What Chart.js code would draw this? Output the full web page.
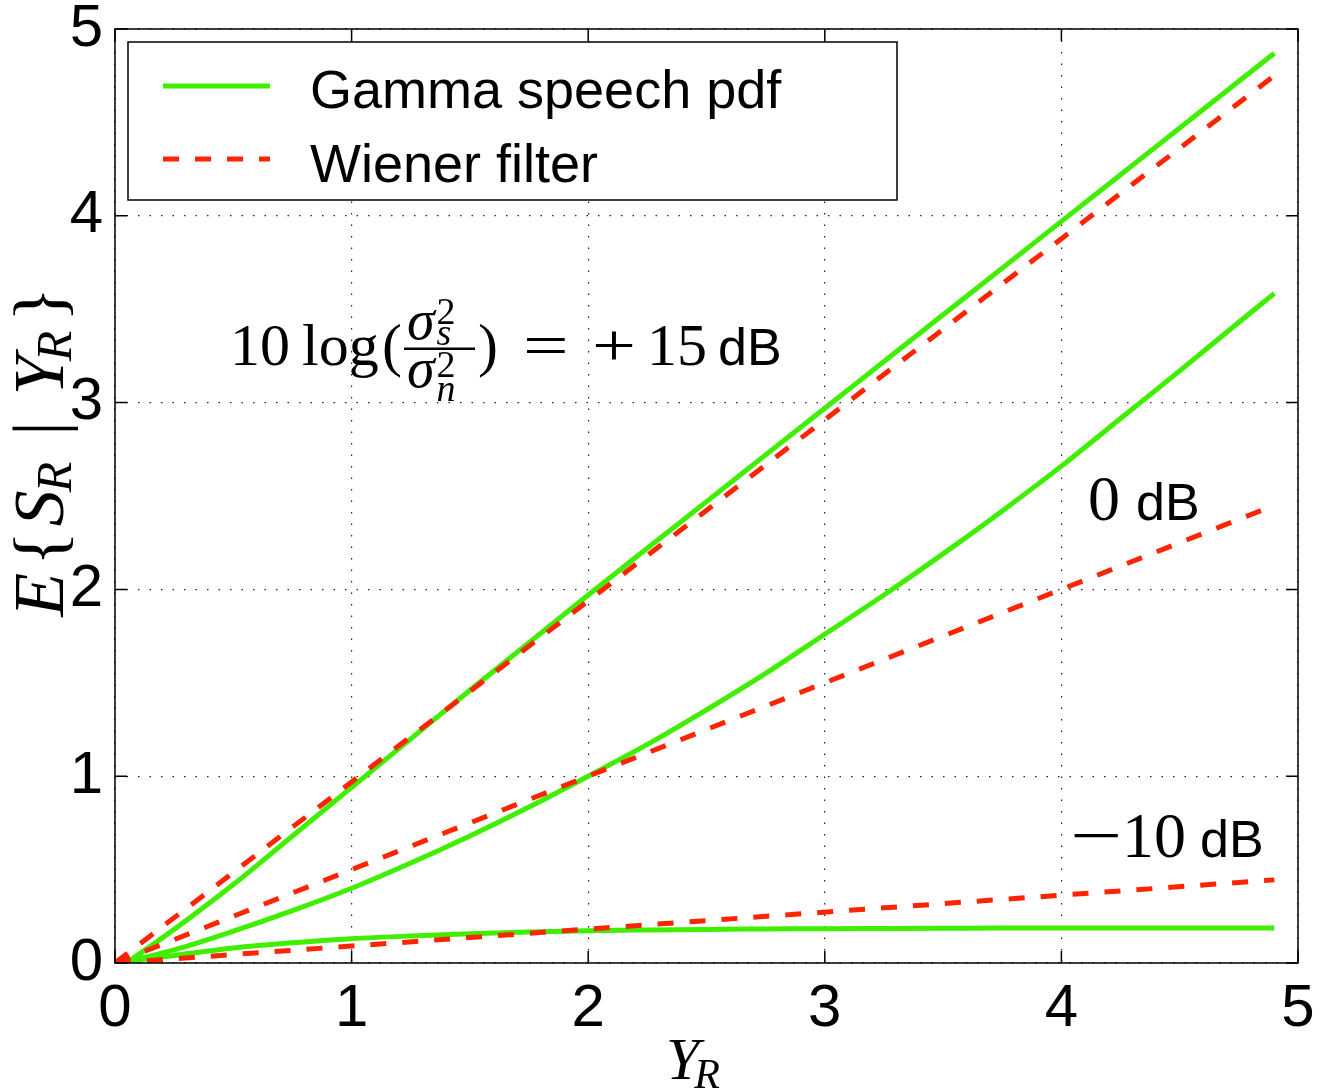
<!DOCTYPE html>
<html>
<head>
<meta charset="utf-8">
<script src="https://cdn.jsdelivr.net/npm/chart.js@4.4.0/dist/chart.umd.min.js"></script>
<style>
	html, body { margin: 0; padding: 0; background: #fff; }
</style>
</head>
<body>
<canvas id="chart" width="1319" height="1089"></canvas>
<script>
"use strict";

// Estimator output E{S_R | Y_R}
const gammaX = [0.06, 0.25, 0.5, 0.75, 1, 1.25, 1.5, 1.75, 2, 2.25, 2.5, 2.75, 3, 3.25, 3.5, 3.75, 4, 4.25, 4.5, 4.75, 4.9]
const gamma15 = [0.01, 0.18, 0.42, 0.68, 0.94, 1.2, 1.46, 1.715, 1.97, 2.22, 2.47, 2.72, 2.97, 3.22, 3.47, 3.72, 3.97, 4.22, 4.47, 4.72, 4.87]
const gamma0 = [0.01, 0.07, 0.17, 0.28, 0.40, 0.535, 0.68, 0.835, 1.0, 1.17, 1.355, 1.55, 1.76, 1.97, 2.19, 2.42, 2.66, 2.915, 3.17, 3.43, 3.585]
const gammaM10 = [0.01, 0.04, 0.08, 0.108, 0.13, 0.145, 0.157, 0.166, 0.173, 0.177, 0.18, 0.182, 0.184, 0.185, 0.186, 0.187, 0.187, 0.187, 0.187, 0.187, 0.187]

const wienerX = [0, 4.9]
const wiener15 = [0, 4.75]
const wiener0 = [0, 2.45]
const wienerM10 = [0, 0.445]

const xTicks = [0, 1, 2, 3, 4, 5]
const yTicks = [0, 1, 2, 3, 4, 5]

const legendLabels = ['Gamma speech pdf', 'Wiener filter']

const GREEN = 'rgb(64,238,0)'
const RED = 'rgb(255,36,0)'

const pts = (xs, ys) => xs.map((x, i) => ({ x: x, y: ys[i] }))

const gammaSet = (ys) => ({
	data: pts(gammaX, ys),
	borderColor: GREEN,
	borderWidth: 5,
	pointRadius: 0,
	cubicInterpolationMode: 'monotone',
	fill: false,
	order: 1
})

const wienerSet = (ys) => ({
	data: pts(wienerX, ys),
	borderColor: RED,
	borderWidth: 5,
	borderDash: [16, 16],
	borderCapStyle: 'butt',
	pointRadius: 0,
	fill: false,
	order: 0
})

const serif = (size, italic) => (italic ? 'italic ' : '') + size + 'px "Liberation Serif"'
const sans = (size) => size + 'px "Liberation Sans"'

function put(ctx, t, font, x, y) {
	ctx.font = font
	ctx.fillText(t, x, y)
	return x + ctx.measureText(t).width
}

// math symbols like = + - are wider in the original font, stretch them
function putWide(ctx, t, font, x, y, sx) {
	ctx.save()
	ctx.translate(x, y)
	ctx.scale(sx, 1)
	put(ctx, t, font, 0, 0)
	ctx.restore()
}

// legend box, frame, inward ticks
const framePlugin = {
	id: 'frame',
	afterDatasetsDraw(chart) {
		const ctx = chart.ctx
		const a = chart.chartArea
		const xs = chart.scales.x
		const ys = chart.scales.y
		ctx.save()

		// legend
		ctx.fillStyle = '#fff'
		ctx.fillRect(128, 42, 769, 158)
		ctx.strokeStyle = '#000'
		ctx.lineWidth = 1.5
		ctx.strokeRect(128, 42, 769, 158)

		ctx.lineWidth = 5
		ctx.lineCap = 'butt'
		ctx.strokeStyle = GREEN
		ctx.beginPath(); ctx.moveTo(163, 86); ctx.lineTo(270, 86); ctx.stroke()
		ctx.strokeStyle = RED
		ctx.setLineDash([16, 16])
		ctx.beginPath(); ctx.moveTo(163, 159); ctx.lineTo(270, 159); ctx.stroke()
		ctx.setLineDash([])

		ctx.fillStyle = '#000'
		ctx.textBaseline = 'alphabetic'
		put(ctx, legendLabels[0], sans(54), 310, 108)
		put(ctx, legendLabels[1], sans(54), 310, 182)

		// frame
		ctx.strokeStyle = '#000'
		ctx.lineWidth = 1.5
		ctx.strokeRect(a.left, a.top, a.right - a.left, a.bottom - a.top)

		// ticks pointing in, all four sides
		const tl = 12
		ctx.beginPath()
		xs.ticks.forEach(t => {
			const px = xs.getPixelForValue(t.value)
			ctx.moveTo(px, a.bottom); ctx.lineTo(px, a.bottom - tl)
			ctx.moveTo(px, a.top); ctx.lineTo(px, a.top + tl)
		})
		ys.ticks.forEach(t => {
			const py = ys.getPixelForValue(t.value)
			ctx.moveTo(a.left, py); ctx.lineTo(a.left + tl, py)
			ctx.moveTo(a.right, py); ctx.lineTo(a.right - tl, py)
		})
		ctx.stroke()
		ctx.restore()
	}
}

// math annotations and axis titles
const textPlugin = {
	id: 'mathText',
	afterDraw(chart) {
		const ctx = chart.ctx
		ctx.save()
		ctx.fillStyle = '#000'
		ctx.textBaseline = 'alphabetic'

		// 10 log(sigma_s^2 / sigma_n^2) = +15 dB
		const base = 365
		put(ctx, '10', serif(60), 230, base)
		put(ctx, 'log', serif(60), 302, base)
		put(ctx, '(', serif(60), 382, base)
		const fx = 404
		ctx.font = serif(56, true)
		const wSig = ctx.measureText('σ').width
		put(ctx, 'σ', serif(56, true), fx + 3, 339)
		put(ctx, '2', serif(38), fx + 5 + wSig, 324)
		put(ctx, 's', serif(38, true), fx + 5 + wSig, 345)
		put(ctx, 'σ', serif(56, true), fx + 3, 387)
		put(ctx, '2', serif(38), fx + 5 + wSig, 377)
		put(ctx, 'n', serif(38, true), fx + 5 + wSig, 401)
		ctx.fillRect(fx, 347.5, 71, 2.5)
		put(ctx, ')', serif(60), 478, base)
		putWide(ctx, '=', serif(60), 523, base, 1.35)
		putWide(ctx, '+', serif(60), 592, base, 1.3)
		put(ctx, '15', serif(60), 647, base)
		put(ctx, 'dB', sans(52), 718, base)

		// 0 dB
		put(ctx, '0', serif(64), 1088, 520)
		put(ctx, 'dB', sans(52), 1136, 520)

		// -10 dB
		putWide(ctx, '\u2212', serif(64), 1070, 857, 1.45)
		put(ctx, '10', serif(64), 1122, 857)
		put(ctx, 'dB', sans(52), 1200, 857)

		// x title Y_R
		const xr = put(ctx, 'Y', serif(60, true), 666, 1079) - 5
		put(ctx, 'R', serif(42, true), xr, 1088)

		// y title E{S_R | Y_R}
		const parts = [
			['E', serif(72, true), 0, 7],
			['{', serif(72), 0, 5],
			['S', serif(72, true), 0, -2],
			['R', serif(50, true), 8, 26],
			['|', serif(72), 0, 26],
			['Y', serif(72, true), 0, -6],
			['R', serif(50, true), 8, 9],
			['}', serif(72), 0, 0]
		]
		let total = 0
		parts.forEach(p => { ctx.font = p[1]; total += ctx.measureText(p[0]).width + p[3] })
		ctx.translate(63, 452)
		ctx.rotate(-Math.PI / 2)
		let cx = -total / 2
		parts.forEach(p => {
			ctx.font = p[1]
			ctx.fillText(p[0], cx, p[2])
			cx += ctx.measureText(p[0]).width + p[3]
		})
		ctx.restore()
	}
}

const tickFont = { family: 'Liberation Sans', size: 60, lineHeight: 0.95 }
const noPad = s => { s.paddingLeft = 0; s.paddingRight = 0; s.paddingTop = 0; s.paddingBottom = 0 }

new Chart(document.getElementById('chart'), {
	type: 'line',
	data: {
		datasets: [
			wienerSet(wiener15),
			wienerSet(wiener0),
			wienerSet(wienerM10),
			gammaSet(gamma15),
			gammaSet(gamma0),
			gammaSet(gammaM10)
		]
	},
	options: {
		responsive: false,
		animation: false,
		devicePixelRatio: 1,
		layout: { padding: { top: 29, right: 21, left: 0, bottom: 0 } },
		plugins: {
			legend: { display: false },
			tooltip: { enabled: false }
		},
		scales: {
			x: {
				type: 'linear',
				min: 0,
				max: 5,
				afterBuildTicks: s => { s.ticks = xTicks.map(v => ({ value: v })) },
				afterFit: s => { s.height = 126; noPad(s) },
				ticks: { font: tickFont, color: '#000', padding: 0, maxRotation: 0 },
				grid: { color: '#222', lineWidth: 1.2, drawTicks: true, tickLength: 18, tickColor: 'rgba(0,0,0,0)' },
				border: { display: false, dash: [1.5, 10] }
			},
			y: {
				type: 'linear',
				min: 0,
				max: 5,
				afterBuildTicks: s => { s.ticks = yTicks.map(v => ({ value: v })) },
				afterFit: s => { s.width = 115; noPad(s) },
				ticks: { font: tickFont, color: '#000', padding: 0 },
				grid: { color: '#222', lineWidth: 1.2, drawTicks: true, tickLength: 12, tickColor: 'rgba(0,0,0,0)' },
				border: { display: false, dash: [1.5, 10] }
			}
		}
	},
	plugins: [framePlugin, textPlugin]
})
</script>
</body>
</html>
